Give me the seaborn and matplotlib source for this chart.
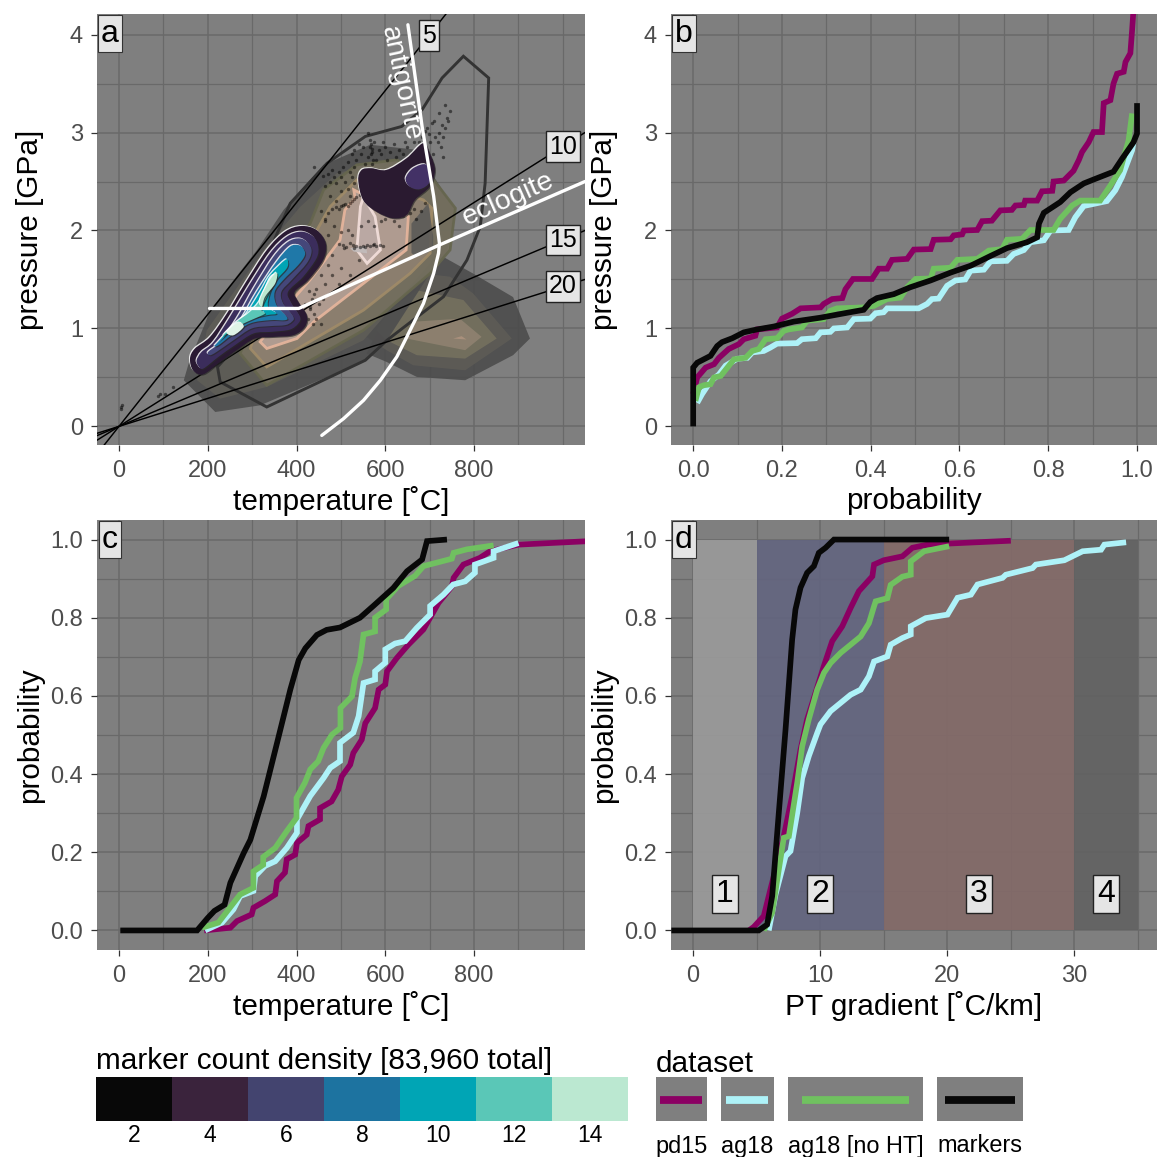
import matplotlib
matplotlib.use("Agg")
import matplotlib.pyplot as plt
import matplotlib.patheffects as pe
from matplotlib.colors import ListedColormap
from matplotlib.path import Path
from matplotlib.patches import PathPatch, Rectangle
import numpy as np
import pandas as pd
import seaborn as sns

# panel b: pressure vs cumulative probability
b_pd15_p = [0, .009, .028, .047, .058, .08, .103, .114, .14, .144, .189, .2, .223, .242, .287, .294, .313, .336, .343, .36, .403, .418, .437, .448, .482, .497, .535, .542, .58, .587, .606, .61, .64, .651, .673, .692, .718, .726, .745, .748, .775, .786, .809, .812, .835, .846, .857, .869, .876, .891, .902, .921, .925, .94, .947, .955, .97, .974, .985, .989, .992]
b_pd15_P = [.33, .5, .6, .635, .7, .79, .84, .89, .925, .99, 1.01, 1.1, 1.15, 1.205, 1.215, 1.25, 1.3, 1.31, 1.4, 1.505, 1.505, 1.61, 1.61, 1.7, 1.71, 1.805, 1.81, 1.905, 1.91, 1.95, 1.96, 2.0, 2.005, 2.095, 2.1, 2.205, 2.21, 2.255, 2.26, 2.305, 2.305, 2.4, 2.405, 2.5, 2.51, 2.56, 2.61, 2.72, 2.8, 2.9, 3.005, 3.005, 3.3, 3.33, 3.5, 3.6, 3.62, 3.72, 3.81, 4.05, 4.25]
b_ag18_p = [.009, .02, .039, .058, .073, .099, .122, .133, .159, .174, .189, .234, .245, .276, .287, .309, .317, .347, .362, .399, .411, .429, .437, .508, .527, .538, .553, .572, .591, .613, .625, .655, .67, .707, .722, .745, .76, .79, .805, .846, .861, .88, .932, .951, .966, .989, .992]
b_ag18_P = [.24, .33, .46, .53, .62, .69, .7, .755, .77, .805, .845, .85, .89, .9, .96, .965, 1.0, 1.01, 1.095, 1.1, 1.155, 1.165, 1.205, 1.205, 1.25, 1.3, 1.305, 1.435, 1.49, 1.5, 1.59, 1.6, 1.685, 1.69, 1.76, 1.8, 1.88, 1.9, 2.0, 2.005, 2.135, 2.25, 2.3, 2.41, 2.545, 2.82, 2.9]
b_noht_p = [.005, .013, .024, .039, .047, .062, .077, .092, .118, .133, .148, .163, .189, .204, .215, .245, .257, .294, .309, .324, .384, .407, .437, .467, .482, .501, .535, .542, .58, .595, .64, .666, .696, .707, .741, .76, .812, .827, .854, .872, .917, .94, .962, .981, .989]
b_noht_P = [.26, .4, .42, .43, .5, .515, .6, .685, .7, .77, .79, .89, .9, .975, .99, 1.01, 1.08, 1.095, 1.18, 1.205, 1.215, 1.23, 1.3, 1.315, 1.42, 1.505, 1.51, 1.61, 1.62, 1.7, 1.71, 1.795, 1.81, 1.905, 1.915, 2.005, 2.005, 2.12, 2.255, 2.305, 2.305, 2.46, 2.615, 2.92, 3.195]
b_mark_p = [0, 0, .009, .039, .054, .065, .088, .114, .144, .182, .227, .287, .347, .384, .399, .414, .452, .489, .535, .58, .625, .67, .707, .752, .775, .779, .79, .827, .85, .88, .902, .947, .966, .992, 1.0, 1.0]
b_mark_P = [0, .6, .65, .72, .82, .86, .9, .96, .99, 1.02, 1.07, 1.11, 1.16, 1.19, 1.27, 1.31, 1.35, 1.42, 1.49, 1.57, 1.64, 1.74, 1.82, 1.88, 1.93, 2.07, 2.18, 2.29, 2.39, 2.48, 2.52, 2.6, 2.73, 2.9, 2.99, 3.3]

# panel c: cumulative probability vs temperature
c_pd15_T = [192, 251, 266, 299, 303, 329, 352, 356, 374, 378, 397, 401, 423, 427, 453, 453, 479, 494, 502, 521, 528, 547, 555, 577, 585, 600, 604, 626, 652, 686, 701, 720, 750, 754, 776, 813, 836, 900, 971, 1060]
c_pd15_p = [0, .007, .024, .041, .058, .075, .092, .126, .148, .182, .194, .224, .245, .267, .284, .313, .33, .36, .394, .424, .454, .488, .53, .569, .616, .629, .663, .697, .731, .77, .8, .838, .88, .902, .936, .953, .97, .987, .991, .996]
c_ag18_T = [194, 232, 258, 273, 303, 307, 329, 352, 378, 401, 401, 431, 461, 476, 498, 498, 528, 540, 551, 577, 577, 600, 600, 622, 645, 671, 701, 701, 731, 753, 780, 802, 802, 844, 844, 900]
c_ag18_p = [0, .02, .054, .088, .101, .139, .165, .177, .211, .25, .284, .344, .39, .416, .433, .48, .506, .548, .633, .642, .663, .685, .719, .734, .74, .774, .808, .83, .859, .885, .893, .915, .936, .953, .97, .991]
c_noht_T = [187, 224, 258, 273, 303, 303, 325, 325, 352, 378, 400, 400, 419, 431, 449, 461, 480, 499, 499, 525, 532, 543, 551, 577, 577, 602, 602, 629, 667, 686, 750, 754, 784, 844]
c_noht_p = [.007, .02, .07, .092, .109, .151, .168, .188, .211, .254, .288, .339, .378, .412, .433, .467, .501, .518, .569, .599, .646, .688, .757, .765, .8, .821, .847, .881, .907, .932, .951, .966, .975, .985]
c_mark_T = [3, 176, 200, 215, 238, 251, 281, 296, 326, 356, 386, 405, 420, 446, 468, 498, 543, 573, 618, 649, 683, 694, 739]
c_mark_p = [0, 0, .032, .05, .066, .122, .198, .232, .343, .479, .616, .692, .722, .756, .769, .775, .8, .83, .876, .919, .949, .996, 1.0]

# panel d: cumulative probability vs PT gradient
d_pd15_G = [4.4, 4.78, 5.57, 5.96, 6.49, 7.14, 7.8, 8.46, 8.98, 9.64, 10.29, 10.95, 11.74, 12.4, 13.05, 14.11, 14.24, 15.0, 16.47, 17.26, 18.44, 20.28, 25.0]
d_pd15_p = [0, .009, .037, .088, .156, .241, .344, .463, .54, .608, .676, .74, .778, .825, .868, .906, .936, .947, .957, .979, .987, .99, .997]
d_ag18_G = [5.96, 6.49, 7.28, 7.67, 8.2, 8.59, 9.11, 9.77, 10.03, 10.82, 11.61, 12.4, 13.19, 13.84, 14.24, 15.29, 15.55, 16.47, 17.13, 17.13, 18.31, 20.02, 20.81, 21.86, 22.38, 24.35, 24.61, 26.71, 26.97, 29.21, 30.65, 32.1, 32.36, 34.07]
d_ag18_p = [0, .092, .19, .203, .301, .39, .446, .505, .527, .561, .582, .603, .616, .65, .688, .701, .731, .748, .757, .778, .799, .808, .851, .859, .885, .902, .91, .927, .936, .947, .97, .974, .987, .993]
d_noht_G = [5.57, 6.23, 6.75, 7.14, 7.54, 8.2, 8.59, 9.11, 9.77, 10.3, 10.82, 11.61, 12.4, 13.19, 13.84, 14.24, 14.37, 15.29, 15.55, 16.47, 17.13, 17.13, 18.18, 20.15]
d_noht_p = [0, .045, .156, .237, .241, .378, .471, .54, .616, .659, .684, .71, .731, .752, .786, .829, .842, .85, .884, .905, .91, .944, .97, .983]
d_mark_G = [-1.7, 5.17, 5.83, 6.23, 6.75, 7.28, 7.8, 8.06, 8.46, 8.98, 9.51, 9.9, 10.43, 11.09, 20.15]
d_mark_p = [0, 0, .015, .088, .301, .514, .744, .821, .877, .915, .932, .966, .979, 1.0, 1.0]

regime_edges = [0, 5, 15, 30, 35]
regime_names = ["1", "2", "3", "4"]
regime_colors = ["#9a9a9a", "#63657f", "#836a68", "#626262"]

# panel a: PT field outlines (temperature, pressure)
main_T = [[146, 157, 206, 311, 371, 461, 566, 671, 709, 758, 739, 701, 604, 559, 318, 217],
          [176, 198, 326, 409, 491, 581, 671, 709, 731, 701, 551, 333, 228],
          [273, 341, 431, 461, 536, 626, 709, 758, 746, 701, 551, 333],
          [296, 341, 446, 476, 536, 686, 705, 701, 656, 551, 333],
          [318, 371, 430, 453, 498, 509, 532, 529, 604, 652, 647, 551, 439, 401, 333],
          [544, 551, 577, 589, 559, 536],
          [521, 557, 559, 529]]
main_P = [[.471, .641, 1.187, 1.801, 2.21, 2.67, 2.875, 2.824, 2.551, 2.21, 1.767, 1.562, .88, .675, .215, .147],
          [.471, .982, 1.801, 2.244, 2.585, 2.687, 2.415, 2.244, 1.903, 1.664, .88, .403, .283],
          [.744, 1.528, 2.073, 2.415, 2.67, 2.721, 2.517, 2.227, 1.801, 1.562, .982, .42],
          [.795, 1.46, 2.005, 2.244, 2.517, 2.312, 2.227, 1.767, 1.562, 1.187, .607],
          [.863, 1.187, 1.494, 1.63, 1.903, 2.21, 2.33, 2.415, 2.244, 2.142, 1.801, 1.46, 1.068, .897, .795],
          [2.244, 2.346, 2.142, 1.801, 1.664, 1.801],
          [1.818, 1.842, 1.767, 1.784]]
main_fill = ["#4e4e4e", "#5f5d57", "#75705f", "#8e8070", "#b39e94", "#bcaaa5", "#c2bcbc"]
main_edge = ["none", "none", "#66664e", "#a08b68", "#e6b59c", "#f3dfdb", "none"]

high_T = [[723, 798, 888, 926, 888, 780, 671, 603, 558, 604, 664],
          [682, 746, 798, 885, 780, 663, 603, 558],
          [671, 776, 851, 780, 671, 603, 580, 610],
          [663, 768, 817, 780, 648],
          [753, 772, 783]]
high_P = [[1.75, 1.56, 1.32, .897, .727, .471, .505, .658, .744, 1.19, 1.56],
          [1.562, 1.528, 1.357, .897, .573, .624, .778, .914],
          [1.39, 1.29, .897, .692, .727, .88, .982, 1.19],
          [1.068, 1.10, .914, .778, .897],
          [.897, .921, .887]]
high_fill = ["#4c4c4c", "#5e5c56", "#75715f", "#8f8270", "#ad927e"]

shade_T = [659, 697, 708, 708, 670, 659]
shade_P = [2.07, 2.28, 1.94, 1.80, 1.73, 1.77]

outline_T = [222, 228, 333, 555, 604, 731, 784, 814, 825, 833, 776, 728, 683, 637, 555, 469, 386, 345, 300]
outline_P = [.607, .454, .198, .675, .88, 1.323, 1.698, 2.04, 2.483, 3.557, 3.779, 3.557, 3.233, 3.062, 2.96, 2.687, 2.278, 1.85, 1.0]

# panel a: marker density levels, low blob then high blob
low_T = [[160, 171, 205, 243, 284, 333, 374, 411, 445, 466, 460, 426, 396, 404, 423, 419, 393, 348, 306, 265, 228, 190, 167],
         [175, 186, 213, 250, 291, 340, 378, 411, 438, 449, 445, 415, 381, 389, 408, 404, 385, 344, 303, 261, 224, 190, 179],
         [201, 228, 265, 303, 348, 381, 408, 427, 434, 423, 389, 366, 370, 393, 389, 374, 340, 299, 258, 220, 205],
         [216, 243, 273, 310, 355, 385, 404, 415, 419, 404, 370, 351, 355, 378, 374, 340, 295, 254, 224],
         [224, 250, 284, 318, 340, 374, 381, 378, 355, 340, 336, 355, 333, 291, 250, 228],
         [235, 265, 295, 318, 340, 354, 349, 329, 321, 329, 306, 273, 243],
         [318, 340, 356, 352, 329, 322],
         [244, 269, 281, 258]]
low_P = [[.692, .794, .913, 1.152, 1.459, 1.8, 1.988, 2.046, 2.005, 1.868, 1.698, 1.493, 1.374, 1.272, 1.135, 1.016, .931, .913, .896, .777, .658, .532, .572],
         [.675, .76, .862, 1.118, 1.425, 1.766, 1.937, 1.988, 1.937, 1.834, 1.715, 1.527, 1.374, 1.254, 1.118, 1.05, .988, .965, .948, .828, .709, .59, .617],
         [.76, .862, 1.101, 1.408, 1.732, 1.885, 1.919, 1.868, 1.783, 1.664, 1.493, 1.374, 1.254, 1.118, 1.067, 1.033, 1.023, .999, .879, .76, .726],
         [.828, .948, 1.084, 1.374, 1.681, 1.834, 1.851, 1.817, 1.749, 1.647, 1.493, 1.374, 1.237, 1.118, 1.084, 1.084, 1.05, .931, .828],
         [.862, .999, 1.135, 1.374, 1.544, 1.698, 1.681, 1.613, 1.493, 1.357, 1.22, 1.152, 1.135, 1.084, .965, .879],
         [.931, 1.067, 1.169, 1.289, 1.51, 1.544, 1.459, 1.289, 1.186, 1.152, 1.101, 1.033, .948],
         [1.295, 1.493, 1.57, 1.459, 1.323, 1.22],
         [.96, 1.06, 1.016, .93]]
low_fill = ["#2a1a33", "#3b2d5c", "#45477a", "#1f78a8", "#00a5b5", "#5ac7b7", "#bbe8d1", "#dff3e6"]

top_T = [[539, 547, 569, 603, 648, 685, 700, 712, 700, 667, 648, 618, 580, 550],
         [646, 663, 693, 700, 678, 655]]
top_P = [[2.516, 2.619, 2.636, 2.619, 2.738, 2.891, 2.789, 2.619, 2.448, 2.312, 2.158, 2.124, 2.192, 2.312],
         [2.533, 2.636, 2.67, 2.499, 2.421, 2.448]]
top_fill = ["#2a1a30", "#433166"]

# phase boundaries
antigorite_T = [651, 683, 709, 722, 720, 709, 686, 656, 626, 589, 551, 506, 457]
antigorite_P = [4.10, 3.06, 2.35, 1.87, 1.767, 1.562, 1.255, .982, .71, .471, .266, .079, -.092]
eclogite_T = [204, 405, 722, 1050]
eclogite_P = [1.204, 1.204, 1.852, 2.50]

geotherms = [5, 10, 15, 20]
geotherm_label_T = [698, 1000, 1000, 1000]

marker_pts = [(689, 3.02), (705, 3.1), (722, 3.2), (735, 3.28), (738, 3.15), (735, 3.05), (720, 3.0), (712, 2.95), (700, 2.9), (695, 3.05), (742, 3.12), (730, 2.95), (718, 2.9), (725, 2.85), (708, 2.78), (702, 2.72), (730, 2.75), (690, 2.85), (745, 3.22), (710, 3.12), (728, 3.08), (698, 2.98), (683, 2.95), (675, 2.9), (688, 2.78),
              (560, 3.0), (540, 2.88), (530, 2.82), (550, 2.85), (565, 2.92), (570, 2.8), (575, 2.9), (585, 2.82), (590, 2.78), (580, 2.72), (570, 2.68), (560, 2.75), (565, 2.85), (568, 2.78), (572, 2.72), (567, 2.88), (569, 2.83), (600, 2.85), (610, 2.8), (620, 2.88), (630, 2.82), (640, 2.78), (650, 2.85), (660, 2.8), (655, 2.72), (665, 2.9), (645, 2.9), (625, 2.75), (605, 2.72), (595, 2.9),
              (555, 2.68), (545, 2.78), (535, 2.72), (525, 2.78), (515, 2.7), (505, 2.65), (495, 2.6), (485, 2.55), (475, 2.5), (465, 2.45), (500, 2.55), (490, 2.48), (510, 2.5), (520, 2.6), (530, 2.65), (480, 2.62), (470, 2.58), (460, 2.56), (440, 2.65), (525, 2.55), (540, 2.58), (550, 2.6), (515, 2.42), (500, 2.4), (530, 2.48), (520, 2.35), (475, 2.35), (490, 2.3), (455, 2.2), (465, 2.12),
              (480, 2.22), (490, 2.24), (500, 2.25), (505, 2.26), (510, 2.27), (515, 2.25), (520, 2.28), (525, 2.3), (530, 2.32), (535, 2.34), (542, 2.36), (548, 2.38), (470, 2.18), (465, 2.1), (495, 2.22),
              (600, 2.12), (620, 2.1), (640, 2.15), (655, 2.18), (665, 2.22), (680, 2.2), (690, 2.28), (670, 2.12), (630, 2.05), (610, 2.15), (590, 2.1), (575, 2.05), (560, 2.1), (545, 2.05),
              (495, 1.86), (505, 1.85), (512, 1.83), (520, 1.87), (528, 1.85), (535, 1.84), (542, 1.83), (550, 1.84), (558, 1.85), (565, 1.84), (572, 1.85), (580, 1.84), (588, 1.85), (595, 1.84), (508, 1.82), (530, 1.82), (555, 1.83), (575, 1.86),
              (470, 1.95), (485, 2.05), (500, 1.98), (515, 2.0), (525, 1.95), (480, 1.75), (470, 1.65), (455, 1.55), (465, 1.45), (445, 1.4), (435, 1.3), (430, 1.2), (440, 1.35), (450, 1.25), (460, 1.3), (425, 1.1), (440, 1.15), (430, 1.22), (438, 1.05), (445, 1.1), (455, 1.05), (500, 1.62), (520, 1.55), (540, 1.7), (480, 1.55), (495, 1.45), (420, 1.25), (428, 1.38),
              (5, .2), (5, .175), (6, .22), (93, .33), (104, .335), (122, .4), (88, .31)]

density_ticks = [2, 4, 6, 8, 10, 12, 14]
density_colors = ["#080808", "#3a233c", "#43446f", "#1d73a0", "#00a5b5", "#5ac7b7", "#bbe8d1"]
dataset_names = ["pd15", "ag18", "ag18 [no HT]", "markers"]
dataset_colors = ["#8b0063", "#aef2f8", "#70c160", "#080808"]

sns.set_theme(style="white")
plt.rcParams["font.family"] = ["Liberation Sans", "DejaVu Sans"]
plt.rcParams["text.color"] = "black"
plt.rcParams["axes.labelcolor"] = "black"

W = 1157
fig = plt.figure(figsize=(W / 100, W / 100), dpi=100, facecolor="white")


def px_axes(left, top, right, bottom):
    return fig.add_axes([left / W, 1 - bottom / W, (right - left) / W, (bottom - top) / W])


def style(ax, xlim, ylim, xmajor, xminor, ymajor, yminor, xlabel, ylabel, xfmt, yfmt):
    ax.set_facecolor("#7f7f7f")
    for s in ax.spines.values():
        s.set_visible(False)
    ax.set_xlim(xlim)
    ax.set_ylim(ylim)
    ax.set_xticks(xmajor)
    ax.set_xticklabels([xfmt.format(v) for v in xmajor])
    ax.set_yticks(ymajor)
    ax.set_yticklabels([yfmt.format(v) for v in ymajor])
    ax.set_axisbelow(True)
    for v in xmajor + xminor:
        ax.axvline(v, color="#696969", lw=1.1 if v in xmajor else 0.9, zorder=0.5)
    for v in ymajor + yminor:
        ax.axhline(v, color="#696969", lw=1.1 if v in ymajor else 0.9, zorder=0.5)
    ax.tick_params(length=4, width=0.9, color="#333333", labelcolor="#4d4d4d", labelsize=17,
                   bottom=True, left=True)
    ax.tick_params(axis="x", pad=6.5)
    ax.tick_params(axis="y", pad=6)
    ax.set_xlabel(xlabel, fontsize=21.4, color="black", va="center")
    ax.set_ylabel(ylabel, fontsize=21.4, color="black", va="center")
    ax.xaxis.set_label_coords(0.5, -56 / ax.bbox.height)
    ax.yaxis.set_label_coords(-67 / ax.bbox.width, 0.5)


def curve(ax, x, y, color, lw=4.1):
    sns.lineplot(x=x, y=y, sort=False, estimator=None, color=color, linewidth=lw, ax=ax,
                 solid_joinstyle="miter", solid_capstyle="butt", zorder=5)


def letter(ax, s):
    ax.text(13 / ax.bbox.width, 1 - 19.5 / ax.bbox.height, s, transform=ax.transAxes, fontsize=23, ha="center", va="center",
            zorder=20, bbox=dict(boxstyle="square,pad=0.1", fc="#e5e5e5", ec="#333333", lw=0.8))


def num_box(ax, x, y, s, size=18):
    ax.text(x, y, s, fontsize=size, ha="center", va="center", zorder=12, clip_on=True, color="black",
            bbox=dict(boxstyle="square,pad=0.13", fc="#e5e5e5", ec="#222222", lw=1.0))


def smooth(T, P, **kw):
    # closed bezier path that goes through the outline points
    pts = np.column_stack([T, P])
    before = np.roll(pts, 1, axis=0)
    after = np.roll(pts, -1, axis=0)
    after2 = np.roll(pts, -2, axis=0)
    verts = [pts[0]]
    codes = [Path.MOVETO]
    for p0, p1, p2, p3 in zip(before, pts, after, after2):
        verts += [p1 + (p2 - p0) / 6, p2 - (p3 - p1) / 6, p2]
        codes += [Path.CURVE4, Path.CURVE4, Path.CURVE4]
    return PathPatch(Path(np.array(verts), codes), **kw)


def emboss(hi=0.7, lo=0.7):
    return [pe.SimplePatchShadow(offset=(-hi, hi), shadow_rgbFace="white", alpha=0.85),
            pe.SimplePatchShadow(offset=(lo, -lo), shadow_rgbFace="#2a2a2a", alpha=0.7),
            pe.Normal()]


ax_a = px_axes(97, 14, 585, 445)
ax_b = px_axes(671, 14, 1157, 445)
ax_c = px_axes(97, 520, 585, 950)
ax_d = px_axes(671, 520, 1157, 950)

T_lim = (-49.5, 1050)
P_lim = (-0.19, 4.21)
p_lim = (-0.05, 1.05)
T_major = [0, 200, 400, 600, 800]
T_minor = [100, 300, 500, 700, 900, 1000]
P_major = [0, 1, 2, 3, 4]
P_minor = [0.5, 1.5, 2.5, 3.5]
p_major = [0.0, 0.2, 0.4, 0.6, 0.8, 1.0]
p_minor = [0.1, 0.3, 0.5, 0.7, 0.9]

style(ax_a, T_lim, P_lim, T_major, T_minor, P_major, P_minor, "temperature [˚C]", "pressure [GPa]", "{:d}", "{:d}")
style(ax_b, (-0.05, 1.045), P_lim, p_major, p_minor, P_major, P_minor, "probability", "pressure [GPa]", "{:.1f}", "{:d}")
style(ax_c, T_lim, p_lim, T_major, T_minor, p_major, p_minor, "temperature [˚C]", "probability", "{:d}", "{:.1f}")
style(ax_d, (-1.73, 36.5), p_lim, [0, 10, 20, 30], [5, 15, 25, 35], p_major, p_minor, "PT gradient [˚C/km]", "probability", "{:d}", "{:.1f}")

# panel a fields
for T, P, c in zip(high_T, high_P, high_fill):
    ax_a.fill(T, P, color=c, alpha=0.9, lw=0, zorder=1.2)
for T, P, f, e in zip(main_T, main_P, main_fill, main_edge):
    ax_a.fill(T, P, facecolor=f, edgecolor=e, alpha=0.92, lw=2.0 if e != "none" else 0, zorder=1.5)
ax_a.fill(shade_T, shade_P, color="#565656", alpha=0.8, lw=0, zorder=1.6)
ax_a.fill(outline_T, outline_P, facecolor="none", edgecolor="#333333", lw=2.1, zorder=1.7)

line_T = np.array([T_lim[0], T_lim[1]])
for g in geotherms:
    sns.lineplot(x=line_T, y=line_T / (g * 35), color="black", linewidth=1.05, ax=ax_a, zorder=2.5, estimator=None)

markers = pd.DataFrame(marker_pts, columns=["T", "P"])
sns.scatterplot(data=markers, x="T", y="P", s=6, color="black", alpha=0.5, linewidth=0, ax=ax_a, zorder=2.8)

for T, P, c in zip(low_T, low_P, low_fill):
    ax_a.add_patch(smooth(T, P, facecolor=c, edgecolor="none", zorder=3, path_effects=emboss()))
for T, P, c in zip(top_T, top_P, top_fill):
    ax_a.add_patch(smooth(T, P, facecolor=c, edgecolor="none", zorder=3, path_effects=emboss()))

sns.lineplot(x=antigorite_T, y=antigorite_P, sort=False, estimator=None, color="white", linewidth=2.4, ax=ax_a, zorder=4)
sns.lineplot(x=eclogite_T, y=eclogite_P, sort=False, estimator=None, color="white", linewidth=2.4, ax=ax_a, zorder=4)
ax_a.text(635, 3.5, "antigorite", color="white", fontsize=20.4, rotation=-78, ha="center", va="center", zorder=6)
ax_a.text(876, 2.32, "eclogite", color="white", fontsize=20.4, rotation=24, ha="center", va="center", zorder=6)
for g, t in zip(geotherms, geotherm_label_T):
    num_box(ax_a, t, t / (g * 35), str(g))

# cumulative curves
series_b = [(b_pd15_p, b_pd15_P), (b_ag18_p, b_ag18_P), (b_noht_p, b_noht_P), (b_mark_p, b_mark_P)]
series_c = [(c_pd15_T, c_pd15_p), (c_ag18_T, c_ag18_p), (c_noht_T, c_noht_p), (c_mark_T, c_mark_p)]
series_d = [(d_pd15_G, d_pd15_p), (d_ag18_G, d_ag18_p), (d_noht_G, d_noht_p), (d_mark_G, d_mark_p)]
for ax, series in [(ax_b, series_b), (ax_c, series_c), (ax_d, series_d)]:
    for (x, y), c in zip(series, dataset_colors):
        curve(ax, x, y, c)

for i, s in enumerate(regime_names):
    ax_d.fill_between(regime_edges[i:i + 2], 0, 1, color=regime_colors[i], alpha=0.92, lw=0, zorder=1)
    num_box(ax_d, (regime_edges[i] + regime_edges[i + 1]) / 2, 0.094, s, size=23)
for ax, s in zip([ax_a, ax_b, ax_c, ax_d], "abcd"):
    letter(ax, s)

# colour legend
ax_bar = px_axes(96, 1077, 628, 1121)
sns.heatmap(np.array([density_ticks]), cmap=ListedColormap(density_colors), cbar=False, ax=ax_bar,
            xticklabels=density_ticks, yticklabels=False)
ax_bar.tick_params(axis="x", length=0, labelsize=16.5, labelcolor="black", pad=2, rotation=0)

# dataset legend and the titles, laid out in pixels
overlay = fig.add_axes([0, 0, 1, 1], zorder=10)
overlay.set_xlim(0, W)
overlay.set_ylim(W, 0)
overlay.axis("off")
overlay.patch.set_alpha(0)
key_left = [656, 721, 788, 937]
key_right = [707, 774, 923, 1023]
line_left = [660, 726, 802, 945]
line_right = [702, 768, 909, 1015]
for i, name in enumerate(dataset_names):
    overlay.add_patch(Rectangle((key_left[i], 1077), key_right[i] - key_left[i], 44, fc="#7f7f7f", ec="none"))
    overlay.plot([line_left[i], line_right[i]], [1100, 1100], color=dataset_colors[i], lw=5.6, solid_capstyle="butt")
    overlay.text((key_left[i] + key_right[i]) / 2, 1146, name, fontsize=16.9, ha="center", va="center", color="black")
overlay.text(96, 1061, "marker count density [83,960 total]", fontsize=21.4, ha="left", va="center", color="black")
overlay.text(656, 1064, "dataset", fontsize=21.4, ha="left", va="center", color="black")

fig.savefig("out.png", dpi=100)
